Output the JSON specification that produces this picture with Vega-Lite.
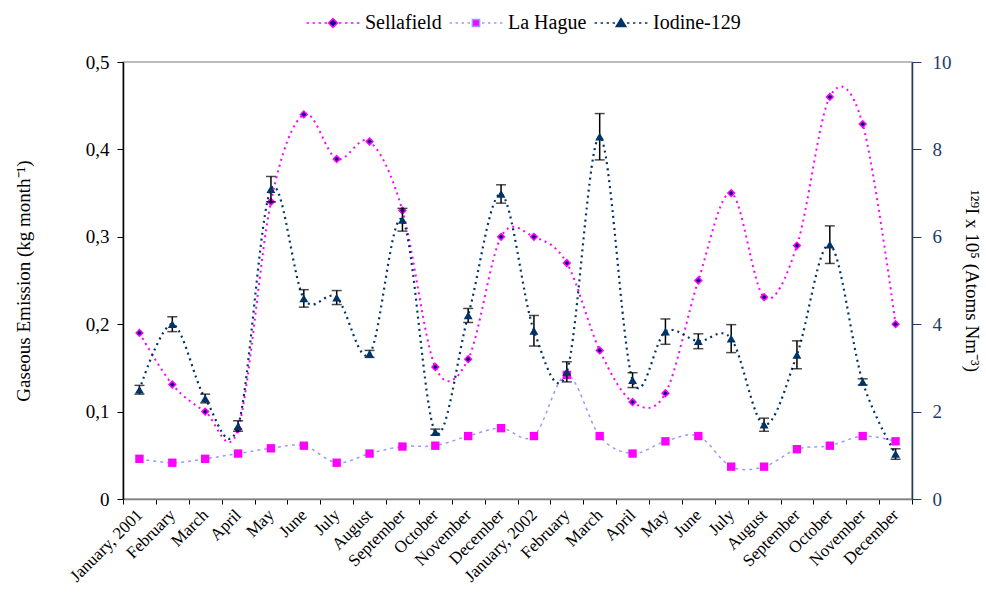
{
  "$schema": "https://vega.github.io/schema/vega-lite/v6.json",
  "width": 789,
  "height": 437,
  "autosize": {"type": "none"},
  "padding": {"left": 123, "top": 62, "right": 74, "bottom": 106},
  "background": "white",
  "config": {
    "font": "Liberation Serif",
    "view": {"stroke": "#a6a6a6", "strokeWidth": 1.5},
    "axis": {"labelFont": "Liberation Serif", "titleFont": "Liberation Serif", "grid": false, "labelColor": "black", "titleColor": "black", "titleFontWeight": "normal"},
    "legend": {"labelFont": "Liberation Serif"}
  },
  "datasets": {
    "d": [
      {"month": "January, 2001", "sellafield": 0.19, "lahague": 0.046, "iodine": 2.5, "lo": 2.4, "hi": 2.6},
      {"month": "February 2001", "sellafield": 0.131, "lahague": 0.0415, "iodine": 4.0, "lo": 3.83, "hi": 4.17},
      {"month": "March 2001", "sellafield": 0.10, "lahague": 0.046, "iodine": 2.3, "lo": 2.2, "hi": 2.4},
      {"month": "April 2001", "sellafield": 0.08, "lahague": 0.052, "iodine": 1.67, "lo": 1.55, "hi": 1.79},
      {"month": "May 2001", "sellafield": 0.34, "lahague": 0.058, "iodine": 7.09, "lo": 6.8, "hi": 7.38},
      {"month": "June 2001", "sellafield": 0.44, "lahague": 0.061, "iodine": 4.59, "lo": 4.39, "hi": 4.79},
      {"month": "July 2001", "sellafield": 0.389, "lahague": 0.0415, "iodine": 4.61, "lo": 4.45, "hi": 4.77},
      {"month": "August 2001", "sellafield": 0.409, "lahague": 0.052, "iodine": 3.32, "lo": 3.24, "hi": 3.4},
      {"month": "September 2001", "sellafield": 0.33, "lahague": 0.06, "iodine": 6.39, "lo": 6.13, "hi": 6.65},
      {"month": "October 2001", "sellafield": 0.151, "lahague": 0.061, "iodine": 1.53, "lo": 1.46, "hi": 1.6},
      {"month": "November 2001", "sellafield": 0.16, "lahague": 0.072, "iodine": 4.2, "lo": 4.04, "hi": 4.36},
      {"month": "December 2001", "sellafield": 0.30, "lahague": 0.081, "iodine": 6.98, "lo": 6.77, "hi": 7.19},
      {"month": "January, 2002", "sellafield": 0.30, "lahague": 0.072, "iodine": 3.85, "lo": 3.5, "hi": 4.2},
      {"month": "February 2002", "sellafield": 0.27, "lahague": 0.142, "iodine": 2.91, "lo": 2.68, "hi": 3.14},
      {"month": "March 2002", "sellafield": 0.17, "lahague": 0.072, "iodine": 8.29, "lo": 7.76, "hi": 8.82},
      {"month": "April 2002", "sellafield": 0.111, "lahague": 0.052, "iodine": 2.72, "lo": 2.55, "hi": 2.89},
      {"month": "May 2002", "sellafield": 0.121, "lahague": 0.066, "iodine": 3.83, "lo": 3.54, "hi": 4.12},
      {"month": "June 2002", "sellafield": 0.25, "lahague": 0.072, "iodine": 3.61, "lo": 3.44, "hi": 3.78},
      {"month": "July 2002", "sellafield": 0.35, "lahague": 0.037, "iodine": 3.67, "lo": 3.35, "hi": 3.99},
      {"month": "August 2002", "sellafield": 0.231, "lahague": 0.037, "iodine": 1.70, "lo": 1.55, "hi": 1.85},
      {"month": "September 2002", "sellafield": 0.29, "lahague": 0.057, "iodine": 3.30, "lo": 2.98, "hi": 3.62},
      {"month": "October 2002", "sellafield": 0.46, "lahague": 0.061, "iodine": 5.82, "lo": 5.39, "hi": 6.25},
      {"month": "November 2002", "sellafield": 0.429, "lahague": 0.072, "iodine": 2.68, "lo": 2.61, "hi": 2.75},
      {"month": "December 2002", "sellafield": 0.20, "lahague": 0.066, "iodine": 1.03, "lo": 0.91, "hi": 1.15}
    ],
    "series": [
      {"series": "Sellafield"},
      {"series": "La Hague"},
      {"series": "Iodine-129"}
    ]
  },
  "data": {"name": "d"},
  "encoding": {
    "x": {
      "field": "month",
      "type": "ordinal",
      "bandPosition": 0.5,
      "scale": {
        "type": "band",
        "paddingInner": 0,
        "paddingOuter": 0,
        "domain": ["January, 2001", "February 2001", "March 2001", "April 2001", "May 2001", "June 2001", "July 2001", "August 2001", "September 2001", "October 2001", "November 2001", "December 2001", "January, 2002", "February 2002", "March 2002", "April 2002", "May 2002", "June 2002", "July 2002", "August 2002", "September 2002", "October 2002", "November 2002", "December 2002"]
      },
      "axis": {
        "orient": "bottom",
        "title": null,
        "labelAngle": -45,
        "labelFontSize": 17,
        "labelOverlap": false,
        "labelBaseline": "middle",
        "labelExpr": "replace(datum.label + '', /([a-z]) [0-9][0-9][0-9][0-9]$/, '$1')",
        "tickBand": "extent",
        "tickSize": 5,
        "tickColor": "black",
        "domainColor": "#808080",
        "domainWidth": 1.5,
        "labelPadding": 8
      }
    }
  },
  "layer": [
    {
      "layer": [
        {
          "mark": {"type": "line", "interpolate": "cardinal", "color": "#9999ff", "strokeDash": [3, 4], "strokeWidth": 1.5},
          "encoding": {
            "y": {
              "field": "lahague",
              "type": "quantitative",
              "scale": {"domain": [0, 0.5]},
              "axis": {"orient": "left", "title": "Gaseous Emission (kg month⁻¹)", "values": [0, 0.1, 0.2, 0.3, 0.4, 0.5], "labelExpr": "datum.value == 0 ? '0' : replace(format(datum.value, '.1f'), '.', ',')", "labelFontSize": 19, "titleFontSize": 19, "domainColor": "black", "domainWidth": 1.5, "tickColor": "black", "tickSize": 6, "labelPadding": 8, "titlePadding": 52}
            }
          }
        },
        {
          "mark": {"type": "line", "interpolate": "cardinal", "color": "#ff00ff", "strokeDash": [2, 4], "strokeWidth": 2},
          "encoding": {
            "y": {
              "field": "sellafield",
              "type": "quantitative",
              "axis": {"orient": "left", "title": "Gaseous Emission (kg month⁻¹)", "values": [0, 0.1, 0.2, 0.3, 0.4, 0.5], "labelExpr": "datum.value == 0 ? '0' : replace(format(datum.value, '.1f'), '.', ',')", "labelFontSize": 19, "titleFontSize": 19, "domainColor": "black", "domainWidth": 1.5, "tickColor": "black", "tickSize": 6, "labelPadding": 8, "titlePadding": 52}
            }
          }
        },
        {
          "mark": {"type": "point", "shape": "square", "filled": true, "color": "#ff00ff", "size": 70, "opacity": 1},
          "encoding": {
            "y": {
              "field": "lahague",
              "type": "quantitative",
              "axis": {"orient": "left", "title": "Gaseous Emission (kg month⁻¹)", "values": [0, 0.1, 0.2, 0.3, 0.4, 0.5], "labelExpr": "datum.value == 0 ? '0' : replace(format(datum.value, '.1f'), '.', ',')", "labelFontSize": 19, "titleFontSize": 19, "domainColor": "black", "domainWidth": 1.5, "tickColor": "black", "tickSize": 6, "labelPadding": 8, "titlePadding": 52}
            }
          }
        },
        {
          "mark": {"type": "point", "shape": "diamond", "filled": true, "fill": "#000080", "stroke": "#ff00ff", "strokeWidth": 1.5, "size": 45, "opacity": 1},
          "encoding": {
            "y": {
              "field": "sellafield",
              "type": "quantitative",
              "axis": {"orient": "left", "title": "Gaseous Emission (kg month⁻¹)", "values": [0, 0.1, 0.2, 0.3, 0.4, 0.5], "labelExpr": "datum.value == 0 ? '0' : replace(format(datum.value, '.1f'), '.', ',')", "labelFontSize": 19, "titleFontSize": 19, "domainColor": "black", "domainWidth": 1.5, "tickColor": "black", "tickSize": 6, "labelPadding": 8, "titlePadding": 52}
            }
          }
        }
      ]
    },
    {
      "layer": [
        {
          "mark": {"type": "line", "interpolate": "cardinal", "color": "#003366", "strokeDash": [2, 4], "strokeWidth": 2.2},
          "encoding": {
            "y": {
              "field": "iodine",
              "type": "quantitative",
              "scale": {"domain": [0, 10]},
              "axis": {"orient": "right", "title": "¹²⁹I x 10⁵ (Atoms Nm⁻³)", "values": [0, 2, 4, 6, 8, 10], "labelColor": "#1f3b66", "domainColor": "#1f3b66", "domainWidth": 1.5, "tickColor": "#1f3b66", "tickSize": 9, "labelPadding": 11, "labelFontSize": 19, "titleFontSize": 19, "titlePadding": 10}
            }
          }
        },
        {
          "mark": {"type": "rule", "color": "black", "strokeWidth": 1.5},
          "encoding": {
            "y": {
              "field": "lo",
              "type": "quantitative",
              "axis": {"orient": "right", "title": "¹²⁹I x 10⁵ (Atoms Nm⁻³)", "values": [0, 2, 4, 6, 8, 10], "labelColor": "#1f3b66", "domainColor": "#1f3b66", "domainWidth": 1.5, "tickColor": "#1f3b66", "tickSize": 9, "labelPadding": 11, "labelFontSize": 19, "titleFontSize": 19, "titlePadding": 10}
            },
            "y2": {"field": "hi"}
          }
        },
        {
          "mark": {"type": "tick", "color": "black", "orient": "horizontal", "size": 10, "thickness": 1.5},
          "encoding": {
            "y": {
              "field": "lo",
              "type": "quantitative",
              "axis": {"orient": "right", "title": "¹²⁹I x 10⁵ (Atoms Nm⁻³)", "values": [0, 2, 4, 6, 8, 10], "labelColor": "#1f3b66", "domainColor": "#1f3b66", "domainWidth": 1.5, "tickColor": "#1f3b66", "tickSize": 9, "labelPadding": 11, "labelFontSize": 19, "titleFontSize": 19, "titlePadding": 10}
            }
          }
        },
        {
          "mark": {"type": "tick", "color": "black", "orient": "horizontal", "size": 10, "thickness": 1.5},
          "encoding": {
            "y": {
              "field": "hi",
              "type": "quantitative",
              "axis": {"orient": "right", "title": "¹²⁹I x 10⁵ (Atoms Nm⁻³)", "values": [0, 2, 4, 6, 8, 10], "labelColor": "#1f3b66", "domainColor": "#1f3b66", "domainWidth": 1.5, "tickColor": "#1f3b66", "tickSize": 9, "labelPadding": 11, "labelFontSize": 19, "titleFontSize": 19, "titlePadding": 10}
            }
          }
        },
        {
          "mark": {"type": "point", "shape": "triangle-up", "filled": true, "color": "#003366", "size": 80, "opacity": 1},
          "encoding": {
            "y": {
              "field": "iodine",
              "type": "quantitative",
              "axis": {"orient": "right", "title": "¹²⁹I x 10⁵ (Atoms Nm⁻³)", "values": [0, 2, 4, 6, 8, 10], "labelColor": "#1f3b66", "domainColor": "#1f3b66", "domainWidth": 1.5, "tickColor": "#1f3b66", "tickSize": 9, "labelPadding": 11, "labelFontSize": 19, "titleFontSize": 19, "titlePadding": 10}
            }
          }
        }
      ]
    },
    {
      "data": {"name": "series"},
      "transform": [{"filter": "datum.series == 'none'"}],
      "mark": {"type": "point", "filled": true, "strokeWidth": 1.5, "opacity": 1},
      "encoding": {
        "fill": {
          "field": "series",
          "type": "nominal",
          "scale": {"domain": ["Sellafield", "La Hague", "Iodine-129"], "range": ["#000080", "#ff00ff", "#003366"]},
          "legend": {"orient": "none", "legendX": 200, "legendY": -49, "direction": "horizontal", "title": null, "labelFont": "Liberation Serif", "labelFontSize": 20, "symbolSize": 64, "symbolStrokeWidth": 1.5, "labelOffset": 22, "columnPadding": 4}
        },
        "stroke": {
          "field": "series",
          "type": "nominal",
          "scale": {"domain": ["Sellafield", "La Hague", "Iodine-129"], "range": ["#ff00ff", "#9999ff", "#003366"]},
          "legend": {"orient": "none", "legendX": 200, "legendY": -49, "direction": "horizontal", "title": null, "labelFont": "Liberation Serif", "labelFontSize": 20, "symbolSize": 64, "symbolStrokeWidth": 1.5, "labelOffset": 22, "columnPadding": 4}
        },
        "shape": {
          "field": "series",
          "type": "nominal",
          "scale": {
            "domain": ["Sellafield", "La Hague", "Iodine-129"],
            "range": [
              "M0,-1.1L1.1,0L0,1.1L-1.1,0ZM-6.6,0H-6M-5.1,0H-4.5M-3.6,0H-3M-2.1,0H-1.5M1.5,0H2.1M3,0H3.6M4.5,0H5.1M6,0H6.6",
              "M-0.9,-0.9H0.9V0.9H-0.9ZM-6.6,0H-6M-5.1,0H-4.5M-3.6,0H-3M-2.1,0H-1.5M1.5,0H2.1M3,0H3.6M4.5,0H5.1M6,0H6.6",
              "M0,-1.1L1.2,0.9H-1.2ZM-6.6,0H-6M-5.1,0H-4.5M-3.6,0H-3M-2.1,0H-1.5M1.5,0H2.1M3,0H3.6M4.5,0H5.1M6,0H6.6"
            ]
          },
          "legend": {"orient": "none", "legendX": 200, "legendY": -49, "direction": "horizontal", "title": null, "labelFont": "Liberation Serif", "labelFontSize": 20, "symbolSize": 64, "symbolStrokeWidth": 1.5, "labelOffset": 22, "columnPadding": 4}
        }
      }
    }
  ],
  "resolve": {"scale": {"y": "independent"}, "axis": {"y": "independent"}}
}
